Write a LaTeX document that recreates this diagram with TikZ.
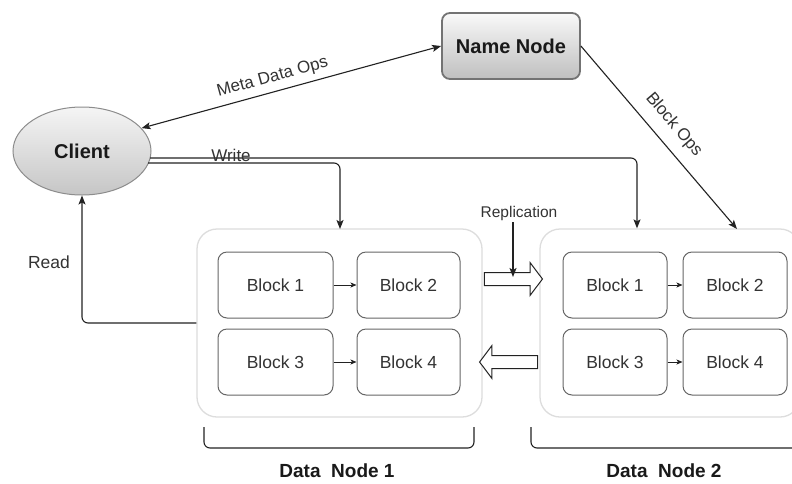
\documentclass[tikz,border=0pt]{standalone}
\usepackage{fontspec}
\setmainfont{Liberation Sans}
\usetikzlibrary{shapes.geometric,shapes.arrows,arrows.meta,calc}

\definecolor{inktext}{HTML}{333333}
\definecolor{inkline}{HTML}{222222}
\definecolor{boxedge}{HTML}{666666}
\definecolor{paneedge}{HTML}{DDDDDD}

\begin{document}
\begin{tikzpicture}[x=1pt,y=-1pt,
  lbl/.style={text=inktext,font=\fontsize{17}{20}\selectfont,inner sep=2pt},
  blockbox/.style={draw=boxedge,line width=1pt,rounded corners=9pt,
    minimum height=66pt,inner sep=0pt,text=inktext,font=\fontsize{17.5}{21}\selectfont},
  pane/.style={draw=paneedge,line width=1.3pt,rounded corners=20pt,
    minimum width=#1,minimum height=188pt,inner sep=0pt},
  conn/.style={draw=inkline,line width=1.1pt,-{Stealth[length=9pt,width=7pt,inset=2pt]}},
  small/.style={draw=inkline,line width=0.9pt,-{Stealth[length=6pt,width=5pt,inset=1.5pt]}},
  hollow/.style={single arrow,draw=inkline,fill=white,line width=1pt,
    minimum height=58pt,minimum width=32pt,inner xsep=0pt,inner ysep=6pt,
    single arrow head extend=10pt,single arrow tip angle=106},
  brace/.style={draw=inkline,line width=1.1pt,rounded corners=6pt},
  title/.style={text=black!90,font=\bfseries\fontsize{19}{22}\selectfont}
]
\useasboundingbox (0,0) rectangle (792,483);
\clip (0,0) rectangle (792,483);
\fill[white] (0,0) rectangle (792,483);

% top level nodes
\node[ellipse,draw=black!45,line width=1pt,top color=gray!8,bottom color=gray!45,
  minimum width=138pt,minimum height=88pt,inner sep=0pt,
  font=\bfseries\fontsize{20}{24}\selectfont,text=black!90] (client) at (82,151) {Client};
\node[draw=black!55,line width=1.8pt,rounded corners=8pt,top color=gray!5,bottom color=gray!50,
  minimum width=138pt,minimum height=66pt,inner sep=0pt,
  font=\bfseries\fontsize{20}{24}\selectfont,text=black!90] (nn) at (511,46) {Name Node};

% data node panes
\node[pane=285pt] (dn1) at (339.5,323) {};
\node[pane=260pt] (dn2) at (670,323) {};

% blocks of data node 1
\node[blockbox,minimum width=115pt] (a1) at (275.5,285) {Block 1};
\node[blockbox,minimum width=103pt] (a2) at (408.5,285) {Block 2};
\node[blockbox,minimum width=115pt] (a3) at (275.5,362) {Block 3};
\node[blockbox,minimum width=103pt] (a4) at (408.5,362) {Block 4};
\draw[small] (a1) -- (a2);
\draw[small] (a3) -- (a4);

% blocks of data node 2
\node[blockbox,minimum width=104pt] (b1) at (615,285) {Block 1};
\node[blockbox,minimum width=104pt] (b2) at (735,285) {Block 2};
\node[blockbox,minimum width=104pt] (b3) at (615,362) {Block 3};
\node[blockbox,minimum width=104pt] (b4) at (735,362) {Block 4};
\draw[small] (b1) -- (b2);
\draw[small] (b3) -- (b4);

% replication arrows between the panes
\node[hollow] (repr) at (511,279) {};
\node[hollow,shape border rotate=180] (repl) at (511,362) {};
\node[lbl,font=\fontsize{15.5}{18}\selectfont] (rep) at (519,213) {Replication};
\coordinate (reptip) at (513,277);
\draw[conn] (rep.south -| reptip) -- (reptip);

% metadata and block operations
\draw[draw=inkline,line width=1.1pt,{Stealth[length=9pt,width=7pt,inset=2pt]}-{Stealth[length=9pt,width=7pt,inset=2pt]}]
  (client.21) -- node[lbl,sloped,above=4pt,pos=0.45] {Meta Data Ops} (nn.west);
\coordinate (bo) at (737,229);
\draw[conn] (nn.east) -- node[lbl,sloped,above=9pt,pos=0.5] {Block Ops} (bo);

% write paths
\coordinate (w1) at ($(client.center)+(66,12)$);
\coordinate (w2) at ($(client.center)+(68,7)$);
\draw[conn,rounded corners=6pt] (w1) -- (340,163) -- (340,229);
\draw[conn,rounded corners=6pt] (w2) -- (637,158) -- (dn2.north -| 637,0);
\node[lbl] (wl) at (231,155) {Write};

% read path
\draw[conn,rounded corners=6pt] (dn1.west |- 0,323) -- (82,323) -- (client.south);
\node[lbl,font=\fontsize{17.5}{21}\selectfont] (rl) at (49,262) {Read};

% brackets and titles
\draw[brace] (204,427) -- (204,448) -- (474,448) -- (474,427);
\draw[brace] (531,427) -- (531,448) -- (800,448) -- (800,427);
\node[title] (t1) at (337,471) {Data\ \ Node 1};
\node[title] (t2) at (664,471) {Data\ \ Node 2};
\end{tikzpicture}
\end{document}
